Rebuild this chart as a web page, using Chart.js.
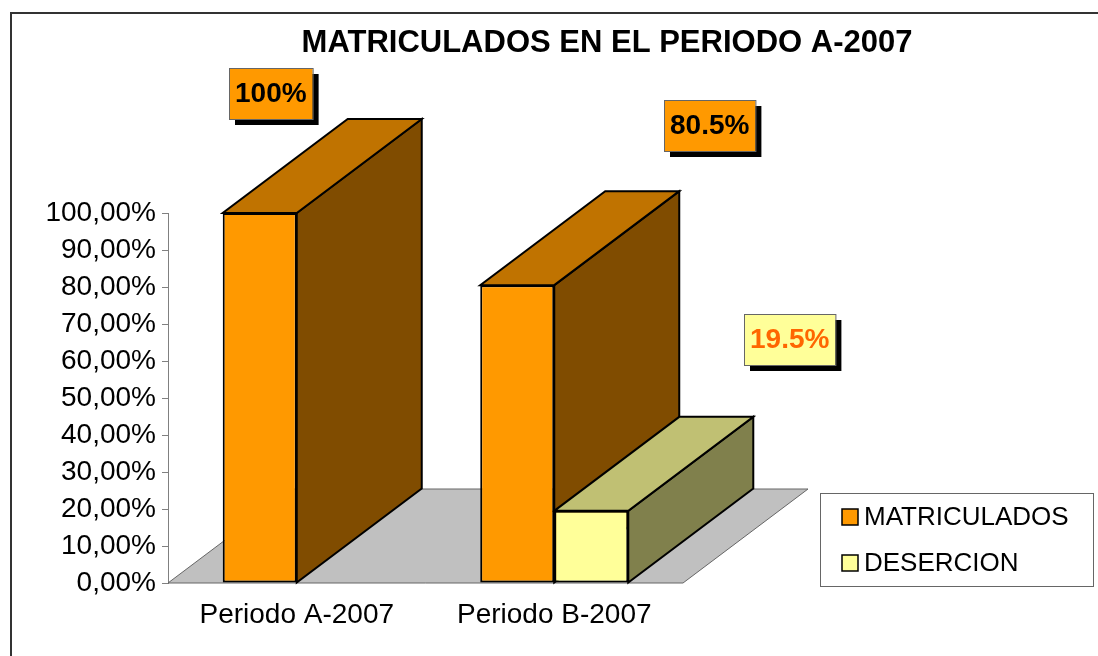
<!DOCTYPE html>
<html>
<head>
<meta charset="utf-8">
<script src="https://cdn.jsdelivr.net/npm/chart.js@4.4.0/dist/chart.umd.min.js"></script>
<style>
  html, body { margin: 0; padding: 0; background: #fff; }
  #wrap { width: 1098px; height: 656px; position: relative; }
</style>
</head>
<body>
<div id="wrap"><canvas id="dataChart" width="1098" height="656"></canvas></div>
<script>
// data
const categories = ['Periodo A-2007', 'Periodo B-2007'];
const seriesNames = ['MATRICULADOS', 'DESERCION'];
const matriculados = [100, 80.5];
const desercion = [null, 19.5];
const yTicks = [0, 10, 20, 30, 40, 50, 60, 70, 80, 90, 100];

const FONT = '"Liberation Sans", Arial, sans-serif';

// colours for front / top / side faces
const faceColors = [
    { front: '#FF9900', top: '#C07300', side: '#804C00', text: '#000000' },
    { front: '#FFFF99', top: '#C0C073', side: '#80804C', text: '#FF6600' },
];

// 3D depth of the boxes (pixels)
const depthX = 125, depthY = -94;

// where the (hand moved) data label boxes sit, relative to the bar top
const labelOffsets = [
    [[11, -120], [192, -160]],
    [null, [198, -171]],
];

const fmtLabel = v => (Number.isInteger(v) ? v : v.toFixed(1)) + '%';
const fmtTick = v => v.toFixed(2).replace('.', ',') + '%';

const poly = (ctx, pts, fill, stroke, lw) => {
    ctx.beginPath();
    ctx.moveTo(pts[0][0], pts[0][1]);
    for (let i = 1; i < pts.length; i++) ctx.lineTo(pts[i][0], pts[i][1]);
    ctx.closePath();
    ctx.fillStyle = fill;
    ctx.fill();
    if (stroke) {
        ctx.strokeStyle = stroke;
        ctx.lineWidth = lw;
        ctx.lineJoin = 'miter';
        ctx.stroke();
    }
};

const threeD = {
    id: 'threeD',
    beforeDraw(chart) {
        const ctx = chart.ctx;
        ctx.save();
        ctx.fillStyle = '#fff';
        ctx.fillRect(0, 0, chart.width, chart.height);
        // outer frame
        ctx.strokeStyle = '#333';
        ctx.lineWidth = 2;
        ctx.strokeRect(11, 13, chart.width + 20, chart.height + 20);
        ctx.restore();
    },
    beforeDatasetsDraw(chart) {
        const ctx = chart.ctx;
        const a = chart.chartArea;
        ctx.save();
        // floor
        poly(ctx, [
            [a.left, a.bottom], [a.right, a.bottom],
            [a.right + depthX, a.bottom + depthY], [a.left + depthX, a.bottom + depthY]
        ], '#C0C0C0', '#666', 1);

        // side + top faces, left to right so nearer ones cover the others
        categories.forEach((c, i) => {
            chart.data.datasets.forEach((ds, d) => {
                if (ds.data[i] == null) return;
                const bar = chart.getDatasetMeta(d).data[i];
                const l = bar.x - bar.width / 2, r = bar.x + bar.width / 2;
                const col = faceColors[d];
                poly(ctx, [
                    [r, bar.y], [r + depthX, bar.y + depthY],
                    [r + depthX, bar.base + depthY], [r, bar.base]
                ], col.side, '#000', 2);
                poly(ctx, [
                    [l, bar.y], [r, bar.y],
                    [r + depthX, bar.y + depthY], [l + depthX, bar.y + depthY]
                ], col.top, '#000', 2);
            });
        });
        ctx.restore();
    },
    afterDraw(chart) {
        const ctx = chart.ctx;
        ctx.save();

        // title
        ctx.fillStyle = '#000';
        ctx.font = 'bold 31px ' + FONT;
        ctx.textAlign = 'center';
        ctx.textBaseline = 'alphabetic';
        ctx.fillText('MATRICULADOS EN EL PERIODO A-2007', 607, 52);

        // data labels
        ctx.font = 'bold 28px ' + FONT;
        ctx.textBaseline = 'middle';
        chart.data.datasets.forEach((ds, d) => {
            ds.data.forEach((v, i) => {
                const off = labelOffsets[d][i];
                if (v == null || !off) return;
                const bar = chart.getDatasetMeta(d).data[i];
                const txt = fmtLabel(v);
                const w = ctx.measureText(txt).width + 12;
                const h = 51;
                const cx = bar.x + off[0], cy = bar.y + off[1];
                const x0 = Math.round(cx - w / 2), y0 = Math.round(cy - h / 2);
                ctx.fillStyle = '#000';
                ctx.fillRect(x0 + 6, y0 + 6, w, h);
                ctx.fillStyle = faceColors[d].front;
                ctx.fillRect(x0, y0, w, h);
                ctx.strokeStyle = '#666';
                ctx.lineWidth = 1;
                ctx.strokeRect(x0 + 0.5, y0 + 0.5, w, h);
                ctx.fillStyle = faceColors[d].text;
                ctx.textAlign = 'center';
                ctx.fillText(txt, x0 + w / 2, y0 + h / 2 + 1);
            });
        });

        // legend
        ctx.strokeStyle = '#666';
        ctx.lineWidth = 1;
        ctx.fillStyle = '#fff';
        ctx.fillRect(820, 493, 273, 93);
        ctx.strokeRect(820.5, 493.5, 273, 93);
        ctx.font = '26px ' + FONT;
        ctx.textAlign = 'left';
        chart.data.datasets.forEach((ds, d) => {
            const cy = 517 + d * 46;
            ctx.fillStyle = faceColors[d].front;
            ctx.fillRect(842, cy - 8, 16, 16);
            ctx.strokeStyle = '#000';
            ctx.lineWidth = 1.5;
            ctx.strokeRect(842, cy - 8, 16, 16);
            ctx.fillStyle = '#000';
            ctx.fillText(ds.label, 864, cy + 1);
        });
        ctx.restore();
    }
};

const ctx = document.getElementById('dataChart').getContext('2d');
const chartObj = new Chart(ctx, {
    type: 'bar',
    data: {
        labels: categories,
        datasets: [{
            label: seriesNames[0],
            data: matriculados,
            backgroundColor: faceColors[0].front,
            borderColor: '#000',
            borderWidth: 2,
            borderSkipped: false,
        }, {
            label: seriesNames[1],
            data: desercion,
            backgroundColor: faceColors[1].front,
            borderColor: '#000',
            borderWidth: 2,
            borderSkipped: false,
        }]
    },
    options: {
        responsive: false,
        animation: false,
        devicePixelRatio: 1,
        layout: { padding: { left: 0, top: 213, right: 415, bottom: 0 } },
        datasets: { bar: { categoryPercentage: 0.575, barPercentage: 1 } },
        plugins: {
            legend: { display: false },
            title: { display: false },
            tooltip: { enabled: false },
        },
        scales: {
            x: {
                grid: { display: false },
                border: { display: false },
                ticks: {
                    color: '#000',
                    font: { family: FONT, size: 28 },
                    padding: 7,
                    maxRotation: 0,
                },
                afterFit: s => { s.height = 73; },
            },
            y: {
                min: 0,
                max: 100,
                afterBuildTicks: s => { s.ticks = yTicks.map(v => ({ value: v })); },
                grid: { drawOnChartArea: false, drawTicks: true, tickLength: 6, color: '#808080' },
                border: { display: true, color: '#808080', width: 1 },
                ticks: {
                    color: '#000',
                    font: { family: FONT, size: 28 },
                    padding: 6,
                    callback: v => fmtTick(v),
                },
                afterFit: s => { s.width = 168; },
            }
        }
    },
    plugins: [threeD]
});
</script>
</body>
</html>
